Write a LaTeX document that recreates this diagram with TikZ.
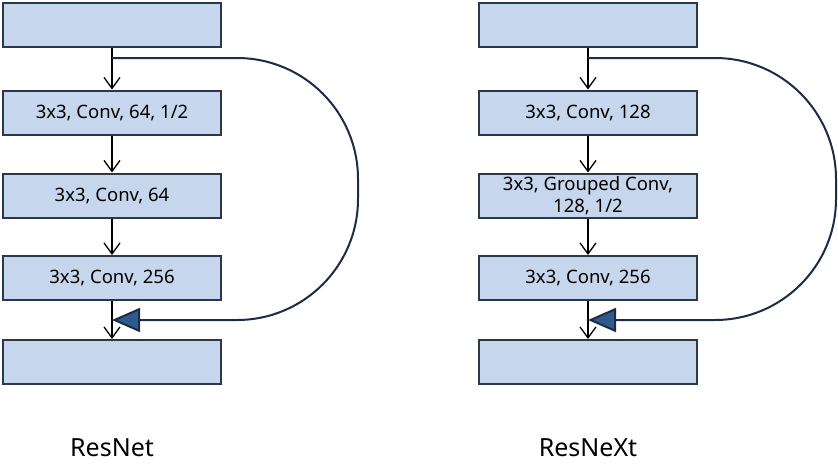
\documentclass[tikz,border=0pt]{standalone}
\usepackage{fontspec}
\setmainfont{Noto Sans}
\usetikzlibrary{arrows.meta, positioning}
\definecolor{boxfill}{RGB}{198,214,236}
\definecolor{boxline}{RGB}{42,56,74}
\definecolor{skipline}{RGB}{28,44,72}
\definecolor{tipfill}{RGB}{46,90,142}

\begin{document}
\begin{tikzpicture}[x=1pt,y=-1pt,
  layer/.style={draw=boxline, fill=boxfill, line width=2pt, minimum width=218pt,
    minimum height=44pt, inner sep=0pt, align=center,
    font=\fontsize{18.5}{22}\selectfont},
  flow/.style={-{Straight Barb[length=11pt,width=16pt]}, line width=1.3pt},
  skip/.style={draw=skipline, line width=2pt, rounded corners=121pt,
    -{Triangle[length=28pt,width=24pt,fill=tipfill]}},
  title/.style={font=\fontsize{25}{30}\selectfont}]
\useasboundingbox (0,0) rectangle (838,469);
% ResNet
\node[layer] (a1) at (112,25) {};
\node[layer] (a2) at (112,112.5) {3x3, Conv, 64, 1/2};
\node[layer] (a3) at (112,195.5) {3x3, Conv, 64};
\node[layer] (a4) at (112,278) {3x3, Conv, 256};
\node[layer] (a5) at (112,362) {};
\coordinate (asplit) at (112,58);
\coordinate (amerge) at (112,320);
\coordinate (aedge) at (358,0);
\draw[flow] (a1) -- (a2);
\draw[flow] (a2) -- (a3);
\draw[flow] (a3) -- (a4);
\draw[flow] (a4) -- (a5);
\draw[skip] (asplit) -- (asplit -| aedge) -- (amerge -| aedge) -- (amerge);
\node[title] (atitle) at (112,448) {ResNet};
% ResNeXt
\node[layer] (b1) at (588,25) {};
\node[layer] (b2) at (588,112.5) {3x3, Conv, 128};
\node[layer] (b3) at (588,195.5) {3x3, Grouped Conv,\\128, 1/2};
\node[layer] (b4) at (588,278) {3x3, Conv, 256};
\node[layer] (b5) at (588,362) {};
\coordinate (bsplit) at (588,58);
\coordinate (bmerge) at (588,320);
\coordinate (bedge) at (836,0);
\draw[flow] (b1) -- (b2);
\draw[flow] (b2) -- (b3);
\draw[flow] (b3) -- (b4);
\draw[flow] (b4) -- (b5);
\draw[skip] (bsplit) -- (bsplit -| bedge) -- (bmerge -| bedge) -- (bmerge);
\node[title] (btitle) at (588,448) {ResNeXt};
\end{tikzpicture}
\end{document}
